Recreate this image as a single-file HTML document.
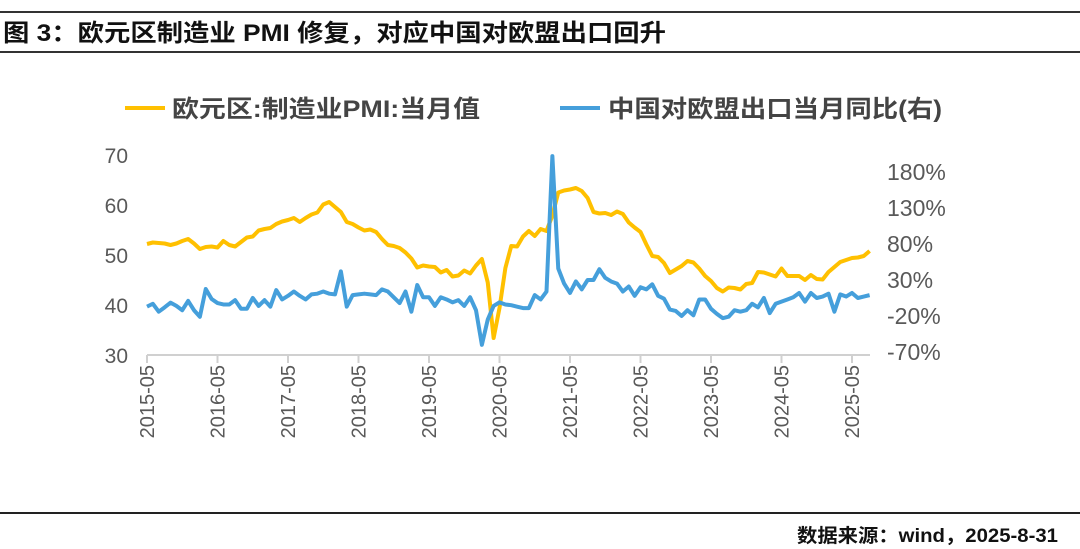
<!DOCTYPE html>
<html><head><meta charset="utf-8"><style>
html,body{margin:0;padding:0;background:#fff;width:1080px;height:549px;overflow:hidden}
svg{display:block}
text{font-family:"Liberation Sans","Noto Sans CJK SC",sans-serif}
</style></head><body>
<svg id="chart" width="1080" height="549">
<line x1="0" y1="12" x2="1080" y2="12" stroke="#333" stroke-width="2"/>
<line x1="0" y1="52" x2="1080" y2="52" stroke="#333" stroke-width="2"/>
<text x="3" y="41" font-size="24" font-weight="bold" fill="#111" textLength="663" lengthAdjust="spacingAndGlyphs">图 3：欧元区制造业 PMI 修复，对应中国对欧盟出口回升</text>
<line x1="0" y1="513" x2="1080" y2="513" stroke="#222" stroke-width="2"/>
<text x="797" y="542" font-size="19" font-weight="bold" fill="#111" textLength="261" lengthAdjust="spacingAndGlyphs">数据来源：wind，2025-8-31</text>
<g>
<line x1="125" y1="108" x2="165" y2="108" stroke="#FFC000" stroke-width="4"/>
<text x="172" y="117" font-size="24" font-weight="bold" fill="#444" textLength="308" lengthAdjust="spacingAndGlyphs">欧元区:制造业PMI:当月值</text>
<line x1="560" y1="108" x2="600" y2="108" stroke="#459FDB" stroke-width="4"/>
<text x="608" y="117" font-size="24" font-weight="bold" fill="#444" textLength="334" lengthAdjust="spacingAndGlyphs">中国对欧盟出口当月同比(右)</text>
</g>
<g id="axes"></g>
<g id="series"></g>
</svg>
<script>
const leftTicks=[30,40,50,60,70];
const rightTicks=[-70,-20,30,80,130,180];
const xTickLabels=["2015-05","2016-05","2017-05","2018-05","2019-05","2020-05","2021-05","2022-05","2023-05","2024-05","2025-05"];
const pmi=[52.2,52.5,52.4,52.3,52.0,52.3,52.8,53.2,52.3,51.2,51.6,51.7,51.5,52.8,52.0,51.7,52.6,53.5,53.7,54.9,55.2,55.4,56.2,56.7,57.0,57.4,56.6,57.4,58.1,58.5,60.1,60.6,59.6,58.6,56.6,56.2,55.5,54.9,55.1,54.6,53.2,52.0,51.8,51.4,50.5,49.3,47.5,47.9,47.7,47.6,46.5,47.0,45.7,45.9,46.9,46.3,47.9,49.2,44.5,33.4,39.4,47.4,51.8,51.7,53.7,54.8,53.8,55.2,54.8,57.9,62.5,62.9,63.1,63.4,62.8,61.4,58.6,58.3,58.4,58.0,58.7,58.2,56.5,55.5,54.6,52.1,49.8,49.6,48.4,46.4,47.1,47.8,48.8,48.5,47.3,45.8,44.8,43.4,42.7,43.5,43.4,43.1,44.2,44.4,46.6,46.5,46.1,45.7,47.3,45.8,45.8,45.8,45.0,46.0,45.2,45.1,46.6,47.6,48.6,49.0,49.4,49.5,49.8,50.8];
const exportYoY=[-7,-3,-14,-8,-1.5,-6,-12,1,-12,-21,17.5,3.6,-2,-4,-4,2,-10,-10,5,-6,2,-7,16,3,8,14,8,3,10,11,14,11,10,42,-7,9,10,11,10,9,17,14,6,-2,14,-14,23,6,6,-6,6,3,-1,2,-6,6,-12,-60,-25,-6,-1,-4,-5,-7,-9,-9,9,3,14,202,46,25,12,28,17,30,30,45,33,28,25,14,21,8,20,17,24,8,4,-11,-13,-20,-12,-19,3,3,-10,-17,-23,-21,-12,-14,-12,-3,-8,5,-16,-3,0,3,6,12,0,12,5,7,11,-14,10,7,12,5,7,9];

const NS="http://www.w3.org/2000/svg";
const x0=147, monthW=5.875, axisY=355;
const xScale=m=>x0+m*monthW;
const yLeft=v=>155+(70-v)*5;
const yRight=v=>172+(180-v)*36/50;
const axes=document.getElementById('axes'), series=document.getElementById('series');
function mk(tag,attrs,parent){const e=document.createElementNS(NS,tag);for(const k in attrs)e.setAttribute(k,attrs[k]);parent.appendChild(e);return e;}

const ax=mk('line',{x1:x0,y1:axisY,x2:870,y2:axisY,stroke:'#d0d0d0','stroke-width':2},axes);


leftTicks.forEach(v=>{
  const t=mk('text',{x:128,y:yLeft(v)+8,'font-size':21,fill:'#595959','text-anchor':'end'},axes);
  t.textContent=v;
  
  
});
rightTicks.forEach(v=>{
  const t=mk('text',{x:887,y:yRight(v)+8,'font-size':23,fill:'#595959'},axes);
  t.textContent=v+'%';
  
  
});
xTickLabels.forEach((s,i)=>{
  const x=xScale(i*12);
  const tk=mk('line',{x1:x,y1:axisY,x2:x,y2:axisY+8,stroke:'#d0d0d0','stroke-width':2},axes);
  
  
  const t=mk('text',{x:0,y:0,'font-size':20,fill:'#595959','text-anchor':'end',transform:`translate(${x+7},${axisY+10}) rotate(-90)`},axes);
  t.textContent=s;
  
  
});
const p1=mk('polyline',{points:pmi.map((v,i)=>xScale(i)+','+yLeft(v)).join(' '),fill:'none',stroke:'#FFC000','stroke-width':4,'stroke-linejoin':'round'},series);


const p2=mk('polyline',{points:exportYoY.map((v,i)=>xScale(i)+','+yRight(v)).join(' '),fill:'none',stroke:'#459FDB','stroke-width':4,'stroke-linejoin':'round'},series);


</script>
</body></html>
